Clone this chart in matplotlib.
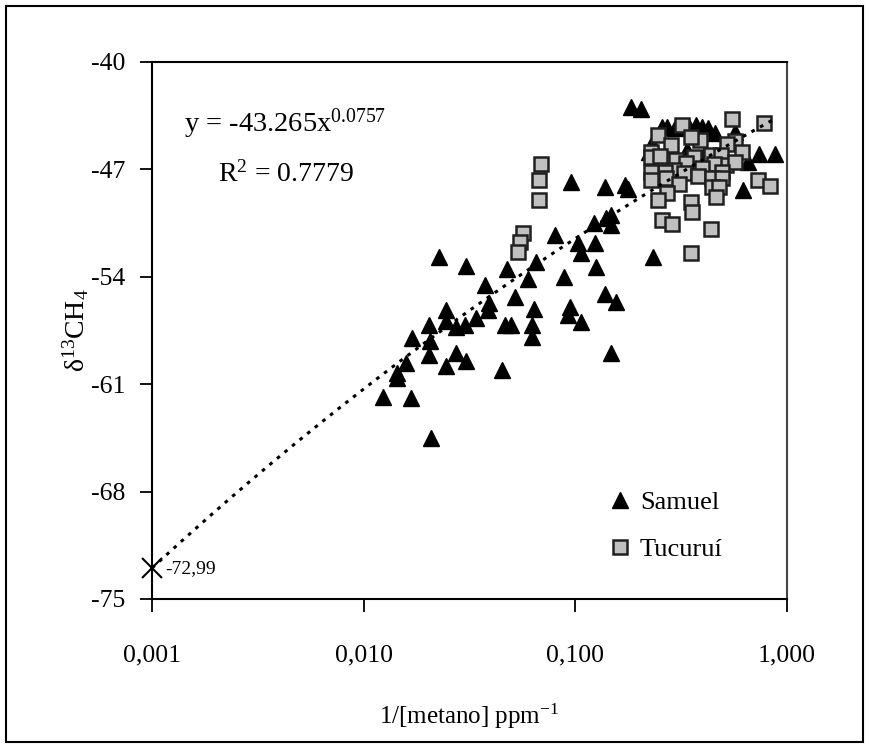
import numpy as np
import matplotlib
matplotlib.use("Agg")
import matplotlib.pyplot as plt
from matplotlib.patches import Rectangle

plt.rcParams["font.family"] = ["Liberation Serif", "DejaVu Serif"]
plt.rcParams["mathtext.fontset"] = "custom"
plt.rcParams["mathtext.rm"] = "Liberation Serif"
plt.rcParams["mathtext.it"] = "Liberation Serif:italic"
plt.rcParams["axes.unicode_minus"] = False

# Samuel (triangles): x = 1/[CH4] (ppm^-1), y = d13CH4
samuel_x = [0.0228, 0.0303, 0.0478, 0.0655, 0.0805, 0.0887, 0.0376, 0.0600,
            0.0521, 0.0393, 0.0385, 0.0246, 0.0246, 0.0272, 0.0300, 0.0341,
            0.0203, 0.0170, 0.0205, 0.0203, 0.0272, 0.0306, 0.0244, 0.0158,
            0.0143, 0.0143, 0.0124, 0.0168, 0.0448, 0.0467, 0.0499, 0.0641,
            0.0627, 0.0627, 0.0947, 0.0927, 0.1067, 0.1385, 0.1561, 0.1478,
            0.0209, 0.1837, 0.2048, 0.0957, 0.1385, 0.1721, 0.1778, 0.1230,
            0.1400, 0.1478, 0.1478, 0.1033, 0.1243, 0.1067, 0.1257, 0.2333,
            0.620, 0.738, 0.877, 0.655, 0.568, 0.257, 0.272, 0.296,
            0.345, 0.372, 0.397, 0.424, 0.457, 0.231, 0.223, 0.478,
            0.406, 0.338]
samuel_y = [-52.71, -53.30, -53.49, -53.04, -51.28, -54.02, -54.54, -54.15,
            -55.32, -55.71, -56.17, -56.17, -56.88, -57.28, -57.14, -56.69,
            -57.14, -57.99, -58.19, -59.10, -58.97, -59.49, -59.82, -59.62,
            -60.27, -60.60, -61.84, -61.90, -60.08, -57.14, -57.14, -56.10,
            -57.14, -57.93, -55.97, -56.49, -56.95, -55.12, -55.65, -58.97,
            -64.51, -42.93, -43.06, -47.82, -48.15, -48.02, -48.28, -50.50,
            -50.17, -49.97, -50.63, -51.80, -51.80, -52.45, -53.36, -52.71,
            -48.34, -46.00, -46.00, -46.52, -44.56, -44.24, -44.24, -44.30,
            -44.24, -44.11, -44.24, -44.30, -44.63, -45.28, -45.87, -46.39,
            -46.06, -45.74]

# Tucurui (squares)
tucurui_x = [0.0568, 0.0550, 0.0538, 0.0691, 0.0677, 0.0677, 0.550, 0.779,
             0.320, 0.246, 0.284, 0.389, 0.352, 0.568, 0.521, 0.613,
             0.228, 0.228, 0.252, 0.300, 0.364, 0.438, 0.488, 0.516,
             0.568, 0.452, 0.334, 0.397, 0.293, 0.266, 0.228, 0.228,
             0.269, 0.327, 0.380, 0.494, 0.443, 0.494, 0.309, 0.272,
             0.246, 0.443, 0.478, 0.462, 0.352, 0.356, 0.257, 0.287,
             0.438, 0.352, 0.730, 0.831]
tucurui_y = [-51.15, -51.73, -52.39, -46.65, -47.69, -49.00, -43.72, -43.98,
             -44.11, -44.76, -45.41, -45.08, -44.89, -45.15, -45.35, -45.87,
             -45.87, -46.19, -46.13, -46.39, -46.19, -46.06, -46.06, -46.71,
             -46.52, -46.65, -46.58, -46.91, -47.04, -47.17, -47.17, -47.69,
             -47.56, -47.24, -47.43, -47.17, -47.56, -47.56, -47.95, -48.54,
             -49.00, -48.15, -48.15, -48.80, -49.13, -49.78, -50.30, -50.56,
             -50.89, -52.45, -47.69, -48.08]

# power trendline y = a * x^b
fit_a = -43.265
fit_b = -0.0757
intercept_x = 0.001
intercept_y = -72.99

x_ticks = [0.001, 0.01, 0.1, 1.0]
x_ticklabels = ["0,001", "0,010", "0,100", "1,000"]
y_ticks = [-75, -68, -61, -54, -47, -40]

fig = plt.figure(figsize=(8.69, 7.48), dpi=100)
ax = fig.add_axes([152 / 869, 1 - 599 / 748, 635 / 869, 537 / 748])

# outer chart border
fig.patches.append(Rectangle((6 / 869, 6 / 748), 857 / 869, 736 / 748,
                             transform=fig.transFigure, fill=False,
                             edgecolor="black", linewidth=1.5))

ax.plot(samuel_x, samuel_y, linestyle="none", marker="^", markersize=12,
        color="black", markeredgecolor="black", label="Samuel", zorder=3)
ax.plot(tucurui_x, tucurui_y, linestyle="none", marker="s", markersize=9.5,
        markerfacecolor="#C0C0C0", markeredgecolor="#202020",
        markeredgewidth=1.8, label="Tucuruí", zorder=4)

xs = np.logspace(np.log10(intercept_x), np.log10(max(samuel_x)), 200)
ax.plot(xs, fit_a * xs ** fit_b, color="black", linewidth=2.2,
        linestyle=(0, (1.2, 2.0)), zorder=5)

ax.plot([intercept_x], [intercept_y], marker="x", markersize=15,
        markeredgewidth=1.5, color="black", clip_on=False, zorder=6)
ax.text(0.00115, intercept_y, "-72,99", fontsize=14, va="center", ha="left")

ax.set_xscale("log")
ax.set_xlim(0.001, 1.0)
ax.set_ylim(-75, -40)
ax.set_xticks(x_ticks)
ax.set_xticklabels(x_ticklabels)
ax.set_yticks(y_ticks)
ax.xaxis.set_minor_locator(matplotlib.ticker.NullLocator())
ax.tick_params(axis="both", direction="out", length=9, width=1.3,
               labelsize=18.5)
ax.tick_params(axis="x", pad=24)
ax.tick_params(axis="y", pad=10)
for s in ax.spines.values():
    s.set_linewidth(1.5)
ax.spines["right"].set_color("#444444")

ax.text(0.05, 0.885, r"y = -43.265x$^{0.0757}$", transform=ax.transAxes,
        fontsize=20.5, va="center", ha="left")
ax.text(0.104, 0.79, r"R$^{2}$ = 0.7779", transform=ax.transAxes,
        fontsize=20, va="center", ha="left")

ax.set_xlabel(r"1/[metano] ppm$^{-1}$", fontsize=18, labelpad=25)
ax.set_ylabel(r"$\mathrm{\delta^{13}CH_{4}}$", fontsize=20, labelpad=0)

ax.legend(loc="upper left", bbox_to_anchor=(0.70, 0.222), frameon=False,
          fontsize=19, handlelength=1.0, handletextpad=0.25,
          labelspacing=0.9, borderaxespad=0)

fig.savefig("out.png", dpi=100)
